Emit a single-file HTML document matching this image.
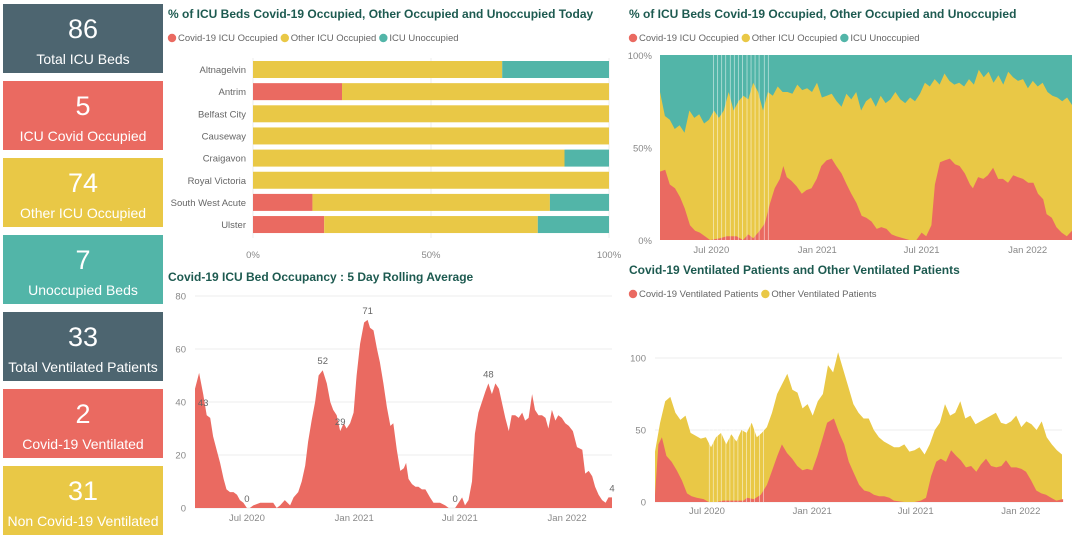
<!DOCTYPE html>
<html><head><meta charset="utf-8">
<style>
body{margin:0;width:1080px;height:532px;overflow:hidden;background:#fff;font-family:"Liberation Sans","DejaVu Sans",sans-serif;position:relative}
.card{position:absolute;left:3px;width:160px;height:69px;color:#fff;text-align:center}
.card .num{position:absolute;top:10px;left:0;right:0;font-size:27px;line-height:30px}
.card .lbl{position:absolute;top:47px;left:0;right:0;font-size:14px;line-height:17px}
svg{position:absolute;left:0;top:0}
</style></head><body>
<div class="card" style="top:4px;background:#4d6570"><div class="num">86</div><div class="lbl">Total ICU Beds</div></div>
<div class="card" style="top:81px;background:#ea6a61"><div class="num">5</div><div class="lbl">ICU Covid Occupied</div></div>
<div class="card" style="top:158px;background:#e9c846"><div class="num">74</div><div class="lbl">Other ICU Occupied</div></div>
<div class="card" style="top:235px;background:#52b5a8"><div class="num">7</div><div class="lbl">Unoccupied Beds</div></div>
<div class="card" style="top:312px;background:#4d6570"><div class="num">33</div><div class="lbl">Total Ventilated Patients</div></div>
<div class="card" style="top:389px;background:#ea6a61"><div class="num">2</div><div class="lbl">Covid-19 Ventilated</div></div>
<div class="card" style="top:466px;background:#e9c846"><div class="num">31</div><div class="lbl">Non Covid-19 Ventilated</div></div>

<svg id="s" width="1080" height="532"></svg>
<script>
// ---------- data ----------
const hospitals=["Altnagelvin","Antrim","Belfast City","Causeway","Craigavon","Royal Victoria","South West Acute","Ulster"];
const hospCovid=[0,25,0,0,0,0,16.7,20];
const hospOther=[70,75,100,100,87.5,100,66.7,60];
const hospUnocc=[30,0,0,0,12.5,0,16.6,20];
const pctTicks=[0,50,100];

// day offsets from series start date
const rollStart="2020-04-03", rollEnd="2022-03-19";
const rollDay=[0,7,14,20,26,31,37,43,49,54,60,66,72,77,83,89,94,100,112,123,134,140,146,154,163,169,177,183,189,194,200,206,212,219,226,232,237,243,249,255,260,266,272,277,283,290,296,300,306,312,317,323,329,335,340,346,352,358,362,366,372,378,383,389,395,403,409,420,429,435,446,452,458,463,469,475,480,486,492,498,503,509,515,521,526,532,538,543,549,555,561,566,572,578,583,589,595,601,606,612,618,623,629,635,641,648,655,664,669,675,681,686,692,698,704,709,715];
const rollAvg=[45,51,43,35,34,27,22,17,11,7,6,6,5,3,2,0,0,1,2,2,2,0,1,3,1,4,6,10,16,25,33,40,50,52,47,40,37,35,29,32,30,32,36,50,62,70,71,68,67,60,55,47,38,31,32,22,14,15,17,11,9,8,8,7,7,4,2,2,1,0,0,2,4,1,3,10,28,36,40,44,47,43,47,45,40,34,29,35,35,34,36,33,34,43,37,35,35,34,30,37,33,35,34,32,31,29,23,22,13,14,12,8,5,3,2,4,4];
const rollLabels=[43,52,29,71,0,0,48,4];
const rollLabelIdx=[2,33,38,46,15,70,80,116];
const rollTicks=[0,20,40,60,80];

const pctStart="2020-04-03", pctEnd="2022-03-19";
const covidDay=[0,9,17,26,35,43,52,61,69,78,87,104,116,133,144,153,162,173,182,191,199,208,214,220,228,237,246,254,263,272,280,289,298,306,315,324,332,341,350,358,367,376,384,393,402,410,422,433,445,454,462,471,477,486,494,503,512,520,529,538,543,552,561,569,578,587,595,604,613,621,630,639,648,656,665,671,680,688,697,706,715];
const covidPct=[37,38,30,28,23,17,8,5,4,2,0,1,2,2,0,3,1,5,9,20,28,33,40,34,32,29,25,27,28,33,40,43,44,40,36,30,25,20,13,12,10,6,7,6,3,2,1,0,0,4,2,8,30,42,43,44,41,40,36,30,28,34,33,35,39,33,33,31,35,34,33,31,31,25,22,14,12,7,4,2,5];
const occupiedPct=[80,67,65,60,62,58,70,66,68,63,65,70,66,70,80,70,75,78,76,85,80,70,80,78,83,80,80,79,84,81,82,80,85,77,78,79,75,72,79,76,80,70,75,77,72,78,74,76,80,76,74,77,75,79,85,83,87,84,90,86,84,85,83,87,84,92,88,91,85,89,84,91,88,86,87,82,86,83,85,80,78,77,75,77,73];

const ventStart="2020-04-01", ventEnd="2022-03-14";
const ventDay=[0,6,12,20,29,38,47,56,64,73,85,94,108,120,138,155,161,173,185,196,205,214,222,231,240,249,258,266,275,284,293,301,313,322,331,339,348,357,366,375,383,392,401,410,418,436,454,465,474,483,492,500,509,518,527,535,544,553,562,570,579,588,597,606,614,623,632,641,649,658,667,676,684,693,702,714];
const covidVent=[5,40,45,32,28,22,15,6,4,3,2,0,0,1,1,1,3,2,5,12,22,32,40,34,30,25,22,23,22,32,44,55,58,48,40,28,20,12,8,7,5,4,4,3,1,0,0,1,3,18,28,30,28,36,32,29,24,25,21,26,30,25,24,25,29,24,24,23,21,15,8,6,5,3,1,2];
const ventTotal=[35,55,70,73,62,57,60,48,46,44,45,38,45,48,40,47,42,50,48,55,45,48,52,62,75,82,89,78,76,65,68,60,70,75,95,90,104,92,80,68,62,58,58,50,45,42,40,38,38,40,35,36,38,33,40,50,55,68,60,62,70,58,60,54,56,58,60,62,55,54,56,60,52,56,54,50,56,45,40,36,33];
const ventTicks=[0,50,100];
const gapDates=["2020-07-05","2020-07-12","2020-07-19","2020-07-26","2020-08-03","2020-08-10","2020-08-17","2020-08-24","2020-09-01","2020-09-08","2020-09-15","2020-09-22","2020-10-01","2020-10-08"];
const monthTicks=["2020-07-01","2021-01-01","2021-07-01","2022-01-01"];
const monthLabels=["Jul 2020","Jan 2021","Jul 2021","Jan 2022"];

// ---------- helpers ----------
const NS="http://www.w3.org/2000/svg";
const svg=document.getElementById('s');
function mk(tag,attrs,parent){const e=document.createElementNS(NS,tag);for(const k in attrs)e.setAttribute(k,attrs[k]);(parent||svg).appendChild(e);return e;}
function txt(x,y,s,o){const e=mk('text',Object.assign({x:x,y:y,'font-size':10,fill:'#666','font-family':'Liberation Sans, DejaVu Sans, sans-serif'},o||{}));e.textContent=s;return e;}
const RED='#ea6a61',YEL='#e9c846',TEAL='#52b5a8',TITLE='#1d5a50';
const day=s=>Date.parse(s)/864e5;
function title(x,y,s,name){const t=txt(x,y,s,{'font-size':12,'font-weight':'bold',fill:TITLE});

}
function legend(x,y,items,name){let cx=x;const g=mk('g',{});


items.forEach(it=>{mk('circle',{cx:cx+4,cy:y-3,r:4.2,fill:it[1]},g);const t=txt(cx+10,y,it[0],{'font-size':9.5,fill:'#666'});g.appendChild(t);cx+=10+t.getComputedTextLength()+3;});}
function timeAxis(x0,x1,d0,d1){return d=>x0+(day(d)-day(d0))/(day(d1)-day(d0))*(x1-x0);}
function dayAxis(x0,x1,d0,d1){const span=day(d1)-day(d0);return n=>x0+n/span*(x1-x0);}
function series(arr,x0,x1){return arr.map((v,i)=>x0+i*(x1-x0)/(arr.length-1));}
function areaPath(xs,topY,botY){let p='M'+xs[0]+','+botY(0);xs.forEach((x,i)=>p+='L'+x.toFixed(1)+','+topY(i).toFixed(1));for(let i=xs.length-1;i>=0;i--)p+='L'+xs[i].toFixed(1)+','+botY(i).toFixed(1);return p+'Z';}

// ---------- chart 1: hospital bars ----------
title(168,18,"% of ICU Beds Covid-19 Occupied, Other Occupied and Unoccupied Today","bar-chart-title");
legend(168,41,[["Covid-19 ICU Occupied",RED],["Other ICU Occupied",YEL],["ICU Unoccupied",TEAL]],"bar-chart-legend");
(function(){const X0=253,X1=609,Y0=61,RH=22.15,BH=17;const sx=v=>X0+v/100*(X1-X0);
pctTicks.forEach(t=>{mk('line',{x1:sx(t),x2:sx(t),y1:58,y2:238,stroke:'#eee'});txt(sx(t),258,t+'%',{'text-anchor':'middle','font-size':9.5,fill:'#888'});});
hospitals.forEach((h,i)=>{const y=Y0+i*RH;txt(246,y+BH/2+3.5,h,{'text-anchor':'end','font-size':9.5,fill:'#666'});
let acc=0;[[hospCovid[i],RED,'covid'],[hospOther[i],YEL,'other'],[hospUnocc[i],TEAL,'unoccupied']].forEach(s=>{if(s[0]>0){const r=mk('rect',{x:sx(acc),y:y,width:sx(acc+s[0])-sx(acc),height:BH,fill:s[1]});

}acc+=s[0];});});})();

// ---------- chart 2: rolling avg ----------
title(168,281,"Covid-19 ICU Bed Occupancy : 5 Day Rolling Average","rolling-average-title");
(function(){const X0=195,X1=612,Y0=508,Y1=296;const sy=v=>Y0-v/80*(Y0-Y1);const tx=timeAxis(X0,X1,rollStart,rollEnd);const dx=dayAxis(X0,X1,rollStart,rollEnd);
rollTicks.forEach(t=>{mk('line',{x1:195,x2:612,y1:sy(t),y2:sy(t),stroke:'#eee'});txt(186,sy(t)+3.5,t,{'text-anchor':'end','font-size':9.5,fill:'#888'});});
const xs=rollDay.map(dx);const p=mk('path',{d:areaPath(xs,i=>sy(rollAvg[i]),()=>Y0),fill:RED});


rollLabels.forEach((l,k)=>{const i=rollLabelIdx[k];const t=txt(xs[i],sy(rollAvg[i])-(l===43?-12:6),l,{'text-anchor':'middle','font-size':9.5,fill:'#666'});

});
monthTicks.forEach((m,i)=>txt(tx(m),521,monthLabels[i],{'text-anchor':'middle','font-size':9.5,fill:'#888'}));})();

// ---------- chart 3: percent stacked ----------
title(629,18,"% of ICU Beds Covid-19 Occupied, Other Occupied and Unoccupied","pct-area-title");
legend(629,41,[["Covid-19 ICU Occupied",RED],["Other ICU Occupied",YEL],["ICU Unoccupied",TEAL]],"pct-area-legend");
(function(){const X0=660,X1=1072,Y0=240,Y1=55;const sy=v=>Y0-v/100*(Y0-Y1);const tx=timeAxis(X0,X1,pctStart,pctEnd);const dx=dayAxis(X0,X1,pctStart,pctEnd);
[0,50,100].forEach(t=>txt(652,sy(t)+4,t+'%',{'text-anchor':'end','font-size':9.5,fill:'#888'}));
const u=mk('rect',{x:X0,y:Y1,width:X1-X0,height:Y0-Y1,fill:TEAL});


const xs=series(occupiedPct,X0,X1);
const o=mk('path',{d:areaPath(xs,i=>sy(occupiedPct[i]),()=>Y0),fill:YEL});


const xc=covidDay.map(dx);
const c=mk('path',{d:areaPath(xc,i=>sy(covidPct[i]),()=>Y0),fill:RED});


gapDates.forEach(g=>mk('line',{x1:tx(g),x2:tx(g),y1:Y1,y2:Y0,stroke:'#fff','stroke-opacity':0.6,'stroke-width':0.8}));
monthTicks.forEach((m,i)=>txt(tx(m),253,monthLabels[i],{'text-anchor':'middle','font-size':9.5,fill:'#888'}));})();

// ---------- chart 4: ventilated ----------
title(629,274,"Covid-19 Ventilated Patients and Other Ventilated Patients","ventilated-title");
legend(629,297,[["Covid-19 Ventilated Patients",RED],["Other Ventilated Patients",YEL]],"ventilated-legend");
(function(){const X0=655,X1=1062,Y0=502,Y1=358;const sy=v=>Y0-v/100*(Y0-Y1);const tx=timeAxis(X0,X1,ventStart,ventEnd);const dx=dayAxis(X0,X1,ventStart,ventEnd);
ventTicks.forEach(t=>{mk('line',{x1:X0,x2:X1,y1:sy(t),y2:sy(t),stroke:'#eee'});txt(646,sy(t)+3.5,t,{'text-anchor':'end','font-size':9.5,fill:'#888'});});
const xs=series(ventTotal,X0,X1);
const o=mk('path',{d:areaPath(xs,i=>sy(ventTotal[i]),()=>Y0),fill:YEL});


const xc=ventDay.map(dx);
const c=mk('path',{d:areaPath(xc,i=>sy(covidVent[i]),()=>Y0),fill:RED});


gapDates.forEach(g=>mk('line',{x1:tx(g),x2:tx(g),y1:sy(60),y2:Y0,stroke:'#fff','stroke-opacity':0.6,'stroke-width':0.8}));
monthTicks.forEach((m,i)=>txt(tx(m),514,monthLabels[i],{'text-anchor':'middle','font-size':9.5,fill:'#888'}));})();
</script>
</body></html>
